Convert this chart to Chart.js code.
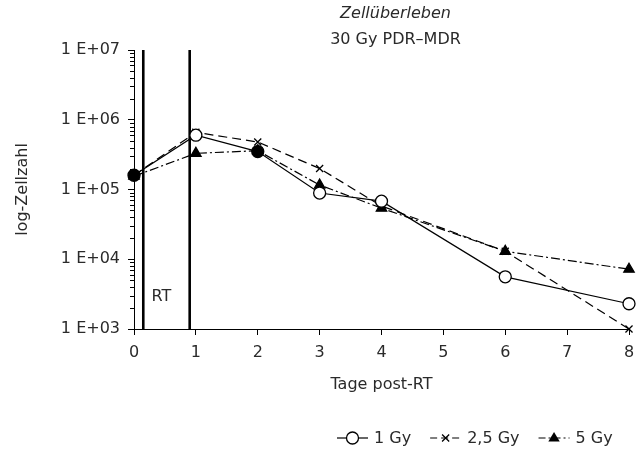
<!DOCTYPE html>
<html><head><meta charset="utf-8">
<script src="https://cdn.jsdelivr.net/npm/chart.js@4"></script>
<style>html,body{margin:0;padding:0;background:#fff}#wrap{width:644px;height:451px}</style>
</head><body><div id="wrap"><canvas id="c" width="644" height="451"></canvas></div>
<script>
const days = [0, 1, 2, 3, 4, 6, 8];
const gy1 = [1.6e5, 6.0e5, 3.5e5, 8.9e4, 6.8e4, 5.6e3, 2.3e3];
const gy25 = [1.6e5, 6.6e5, 4.8e5, 2.0e5, 5.8e4, 1.3e4, 1.0e3];
const gy5 = [1.55e5, 3.3e5, 3.6e5, 1.16e5, 5.4e4, 1.3e4, 7.2e3];
const seriesNames = ['1 Gy', '2,5 Gy', '5 Gy'];
const yTickValues = [1e3, 1e4, 1e5, 1e6, 1e7];
const yTickLabels = ['1 E+03', '1 E+04', '1 E+05', '1 E+06', '1 E+07'];
const xTickLabels = ['0', '1', '2', '3', '4', '5', '6', '7', '8'];
const rtLines = [0.15, 0.9];
const rtLabel = 'RT';
const titleLines = ['Zellüberleben', '30 Gy PDR–MDR'];
const xTitle = 'Tage post-RT';
const yTitle = 'log-Zellzahl';

const FONT = "'DejaVu Sans', sans-serif";
const INK = '#2a2a2a';
Chart.defaults.font.family = FONT;
Chart.defaults.font.size = 16;
Chart.defaults.color = INK;

const toPts = arr => days.map((d, i) => ({x: d, y: arr[i]}));

const styles = [
  {dash: [], legendDash: [], point: 'circle', radius: 6, fill: ['#000', '#fff', '#000', '#fff', '#fff', '#fff', '#fff']},
  {dash: [9, 5], legendDash: [7, 4], point: 'crossRot', radius: 5, fill: '#000'},
  {dash: [9, 3, 2, 3], legendDash: [7, 3, 2, 3], point: 'triangle', radius: 6, fill: '#000'}
];

const datasets = [gy1, gy25, gy5].map((arr, i) => ({
  label: seriesNames[i],
  data: toPts(arr),
  borderColor: '#000',
  borderWidth: 1.2,
  borderDash: styles[i].dash,
  pointStyle: styles[i].point,
  pointRadius: styles[i].radius,
  pointBackgroundColor: styles[i].fill,
  pointBorderColor: '#000',
  pointBorderWidth: 1.3,
  tension: 0,
  fill: false,
  clip: false
}));

function drawMarker(ctx, style, x, y, r) {
  ctx.save();
  ctx.setLineDash([]);
  ctx.lineWidth = 1.3;
  ctx.strokeStyle = '#000';
  ctx.beginPath();
  if (style === 'circle') {
    ctx.arc(x, y, r, 0, Math.PI * 2);
    ctx.fillStyle = '#fff';
    ctx.fill();
    ctx.stroke();
  } else if (style === 'crossRot') {
    const d = r * Math.SQRT1_2;
    ctx.moveTo(x - d, y - d); ctx.lineTo(x + d, y + d);
    ctx.moveTo(x + d, y - d); ctx.lineTo(x - d, y + d);
    ctx.stroke();
  } else {
    ctx.moveTo(x, y - r);
    ctx.lineTo(x + r * 0.95, y + r * 0.6);
    ctx.lineTo(x - r * 0.95, y + r * 0.6);
    ctx.closePath();
    ctx.fillStyle = '#000';
    ctx.fill();
  }
  ctx.restore();
}

const decorPlugin = {
  id: 'decor',
  beforeDatasetsDraw(chart) {
    const {ctx, chartArea, scales} = chart;
    ctx.save();
    ctx.strokeStyle = '#000';
    ctx.lineWidth = 2.6;
    rtLines.forEach(v => {
      const px = scales.x.getPixelForValue(v);
      ctx.beginPath();
      ctx.moveTo(px, chartArea.top);
      ctx.lineTo(px, chartArea.bottom);
      ctx.stroke();
    });
    const mid = (scales.x.getPixelForValue(rtLines[0]) + scales.x.getPixelForValue(rtLines[1])) / 2;
    ctx.fillStyle = INK;
    ctx.font = '16px ' + FONT;
    ctx.textAlign = 'center';
    ctx.textBaseline = 'middle';
    ctx.fillText(rtLabel, mid - 5, chartArea.bottom - 32);
    ctx.restore();
  },
  afterDraw(chart) {
    const {ctx, chartArea, scales} = chart;
    ctx.save();
    ctx.strokeStyle = '#000';
    ctx.lineWidth = 1;
    const y = scales.y;
    for (let e = 3; e < 7; e++) {
      for (let k = 2; k <= 9; k++) {
        const py = Math.round(y.getPixelForValue(k * Math.pow(10, e))) + 0.5;
        ctx.beginPath();
        ctx.moveTo(chartArea.left - 4, py);
        ctx.lineTo(chartArea.left, py);
        ctx.stroke();
      }
    }
    const cx = (chartArea.left + chartArea.right) / 2 + 14;
    ctx.fillStyle = INK;
    ctx.textAlign = 'center';
    ctx.textBaseline = 'middle';
    ctx.font = 'italic 16px ' + FONT;
    ctx.fillText(titleLines[0], cx, 14);
    ctx.font = '16px ' + FONT;
    ctx.fillText(titleLines[1], cx, 40);
    const ly = 438;
    let lx = 337;
    const symW = 31;
    ctx.textAlign = 'left';
    datasets.forEach((ds, i) => {
      ctx.save();
      ctx.strokeStyle = '#000';
      ctx.lineWidth = 1.2;
      ctx.setLineDash(styles[i].legendDash);
      ctx.beginPath();
      ctx.moveTo(lx, ly);
      ctx.lineTo(lx + symW, ly);
      ctx.stroke();
      ctx.restore();
      drawMarker(ctx, styles[i].point, lx + symW / 2, ly, styles[i].radius);
      ctx.fillStyle = INK;
      ctx.font = '16px ' + FONT;
      ctx.fillText(ds.label, lx + symW + 6, ly + 1);
      lx += symW + 6 + ctx.measureText(ds.label).width + 19;
    });
    ctx.restore();
  }
};

new Chart(document.getElementById('c'), {
  type: 'line',
  data: {datasets},
  options: {
    responsive: false,
    animation: false,
    devicePixelRatio: 1,
    layout: {padding: {top: 50, right: 15, bottom: 53, left: 0}},
    plugins: {legend: {display: false}, tooltip: {enabled: false}, title: {display: false}},
    scales: {
      x: {
        type: 'linear', min: 0, max: 8,
        ticks: {stepSize: 1, padding: 8, callback: (v) => xTickLabels[v] ?? ''},
        grid: {display: true, drawOnChartArea: false, drawTicks: true, tickLength: 6, color: '#000'},
        border: {display: true, color: '#000', width: 1},
        title: {display: true, text: xTitle, padding: {top: 4, bottom: 4}},
        afterFit: s => { s.height = 69; }
      },
      y: {
        type: 'logarithmic', min: 1e3, max: 1e7,
        afterBuildTicks: s => { s.ticks = yTickValues.map(v => ({value: v})); },
        ticks: {padding: 8, callback: (v) => { const i = yTickValues.indexOf(v); return i >= 0 ? yTickLabels[i] : ''; }},
        grid: {display: true, drawOnChartArea: false, drawTicks: true, tickLength: 6, color: '#000'},
        border: {display: true, color: '#000', width: 1},
        title: {display: true, text: yTitle, padding: {top: 13, bottom: 0}},
        afterFit: s => { s.width = 134; }
      }
    }
  },
  plugins: [decorPlugin]
});
</script>
</body></html>
